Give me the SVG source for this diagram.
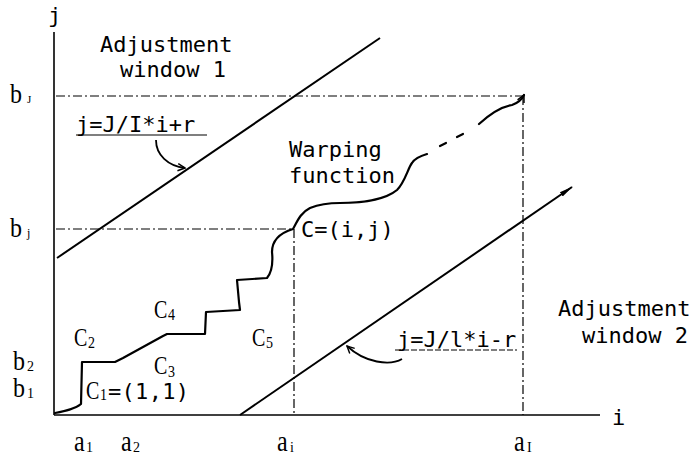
<svg xmlns="http://www.w3.org/2000/svg" width="693" height="459" viewBox="0 0 693 459">
<style>
.ax{stroke:#000;stroke-width:1.6;fill:none}
.dash{stroke:#000;stroke-width:1.2;fill:none;stroke-dasharray:9 3 2 3}
.win{stroke:#000;stroke-width:2;fill:none}
.wf{stroke:#000;stroke-width:2.2;fill:none;stroke-linejoin:round;stroke-linecap:round}
.ptr{stroke:#000;stroke-width:1.8;fill:none}
.m{font-family:"DejaVu Sans Mono","Liberation Mono",monospace;font-size:22px;fill:#000}
.s{font-family:"Liberation Serif","DejaVu Serif",serif;font-size:20px;fill:#000}
.sb{font-family:"Liberation Serif","DejaVu Serif",serif;font-size:24px;fill:#000}
.sub{font-family:"Liberation Serif","DejaVu Serif",serif;font-size:14px;fill:#000}
</style>
<defs>
<marker id="vee" viewBox="0 0 10 10" refX="9" refY="5" markerWidth="9" markerHeight="9" markerUnits="userSpaceOnUse" orient="auto">
<path d="M1,1 L9,5 L1,9" fill="none" stroke="#000" stroke-width="1.6"/>
</marker>
<marker id="solid" viewBox="0 0 14 8" refX="13" refY="4" markerWidth="14" markerHeight="8" markerUnits="userSpaceOnUse" orient="auto">
<path d="M0,1.5 L14,4 L0,6.5 Z" fill="#000"/>
</marker>
</defs>

<g id="axes">
<line class="ax" x1="54" y1="32" x2="54" y2="415"/>
<line class="ax" x1="54" y1="415" x2="600" y2="415"/>
</g>

<g id="guides">
<line class="dash" x1="56" y1="96" x2="523" y2="96"/>
<line class="dash" x1="56" y1="229" x2="294" y2="229"/>
<line class="dash" x1="294" y1="229" x2="294" y2="415"/>
<line class="dash" x1="523" y1="96" x2="523" y2="415"/>
</g>

<g id="window1">
<line class="win" x1="57" y1="258" x2="380" y2="38"/>
</g>
<g id="window2">
<line class="win" x1="240" y1="415" x2="572" y2="187" marker-end="url(#solid)"/>
</g>

<g id="warping">
<path class="wf" d="M55,413 C65,411 75,409 81,404 L82,362 L115,362 L123,358 L163,336 L167,334 L205,334 L206,312 L240,310 L239,302 L237,280 L267,278 C272,272 273,262 272,252 C272,240 280,233 293,229 C297,222 300,213 310,208 C320,204 330,203 340,203 C360,203 385,200 397,190 C405,182 408,168 412,163 C415,158 420,156 427,154"/>
<path class="wf" d="M440,146 L446,143 M457,137 L463,134"/>
<path class="wf" d="M479,124 C490,114 500,107 512,105 C518,103 522,99 524,95" marker-end="url(#vee)"/>
</g>

<g id="connectors">
<path class="ptr" d="M156,140 C156,155 168,166 185,168" marker-end="url(#vee)"/>
<path class="ptr" d="M402,359 C390,366 365,363 347,346" marker-end="url(#vee)"/>
</g>

<g id="labels">
<text class="m" x="48" y="23">j</text>
<text class="m" x="612" y="425">i</text>
<text class="m" x="100" y="52">Adjustment</text>
<text class="m" x="120" y="77">window 1</text>
<text class="m" x="76" y="132">j=J/I*i+r</text>
<line x1="76" y1="135" x2="207" y2="135" stroke="#000" stroke-width="1.2"/>
<text class="m" x="289" y="157">Warping</text>
<text class="m" x="289" y="183">function</text>
<text class="m" x="301" y="237">C=(i,j)</text>
<text class="m" x="558" y="316">Adjustment</text>
<text class="m" x="582" y="343">window 2</text>
<text class="m" x="397" y="347">j=J/l*i-r</text>
<line class="dash" x1="395" y1="350" x2="517" y2="350" style="stroke-dasharray:6 2"/>

<g id="blabels">
<text class="sb" transform="translate(10,103) scale(1,1.1)">b</text>
<text class="sub" transform="translate(27,103)" style="font-size:11px">J</text>
<text class="sb" transform="translate(10,237) scale(1,1.1)">b</text>
<text class="sub" transform="translate(27,237)" style="font-size:12px">j</text>
<text class="sb" transform="translate(13,370) scale(1,1.1)">b</text>
<text class="sub" transform="translate(27,371)">2</text>
<text class="sb" transform="translate(13,397) scale(1,1.1)">b</text>
<text class="sub" transform="translate(27,398)">1</text>
</g>

<g id="alabels">
<text class="sb" transform="translate(74,451) scale(1,1.25)">a</text>
<text class="sub" transform="translate(86,452)">1</text>
<text class="sb" transform="translate(121,451) scale(1,1.25)">a</text>
<text class="sub" transform="translate(133,452)">2</text>
<text class="sb" transform="translate(277,451) scale(1,1.25)">a</text>
<text class="sub" transform="translate(290,452)">i</text>
<text class="sb" transform="translate(514,451) scale(1,1.25)">a</text>
<text class="sub" transform="translate(527,452)">I</text>
</g>

<g id="clabels">
<text class="s" transform="translate(74,346) scale(1,1.3)">C</text>
<text class="sub" transform="translate(88,348) scale(1,1.2)">2</text>
<text class="s" transform="translate(154,318) scale(1,1.3)">C</text>
<text class="sub" transform="translate(168,320) scale(1,1.2)">4</text>
<text class="s" transform="translate(154,374) scale(1,1.3)">C</text>
<text class="sub" transform="translate(168,377) scale(1,1.2)">3</text>
<text class="s" transform="translate(252,346) scale(1,1.3)">C</text>
<text class="sub" transform="translate(266,348) scale(1,1.2)">5</text>
<text class="s" transform="translate(86,399) scale(1,1.3)">C</text>
<text class="sub" transform="translate(100,400) scale(1,1.2)">1</text>
<text class="m" x="108" y="399" style="letter-spacing:0.3px">=(1,1)</text>
</g>
</g>
</svg>
